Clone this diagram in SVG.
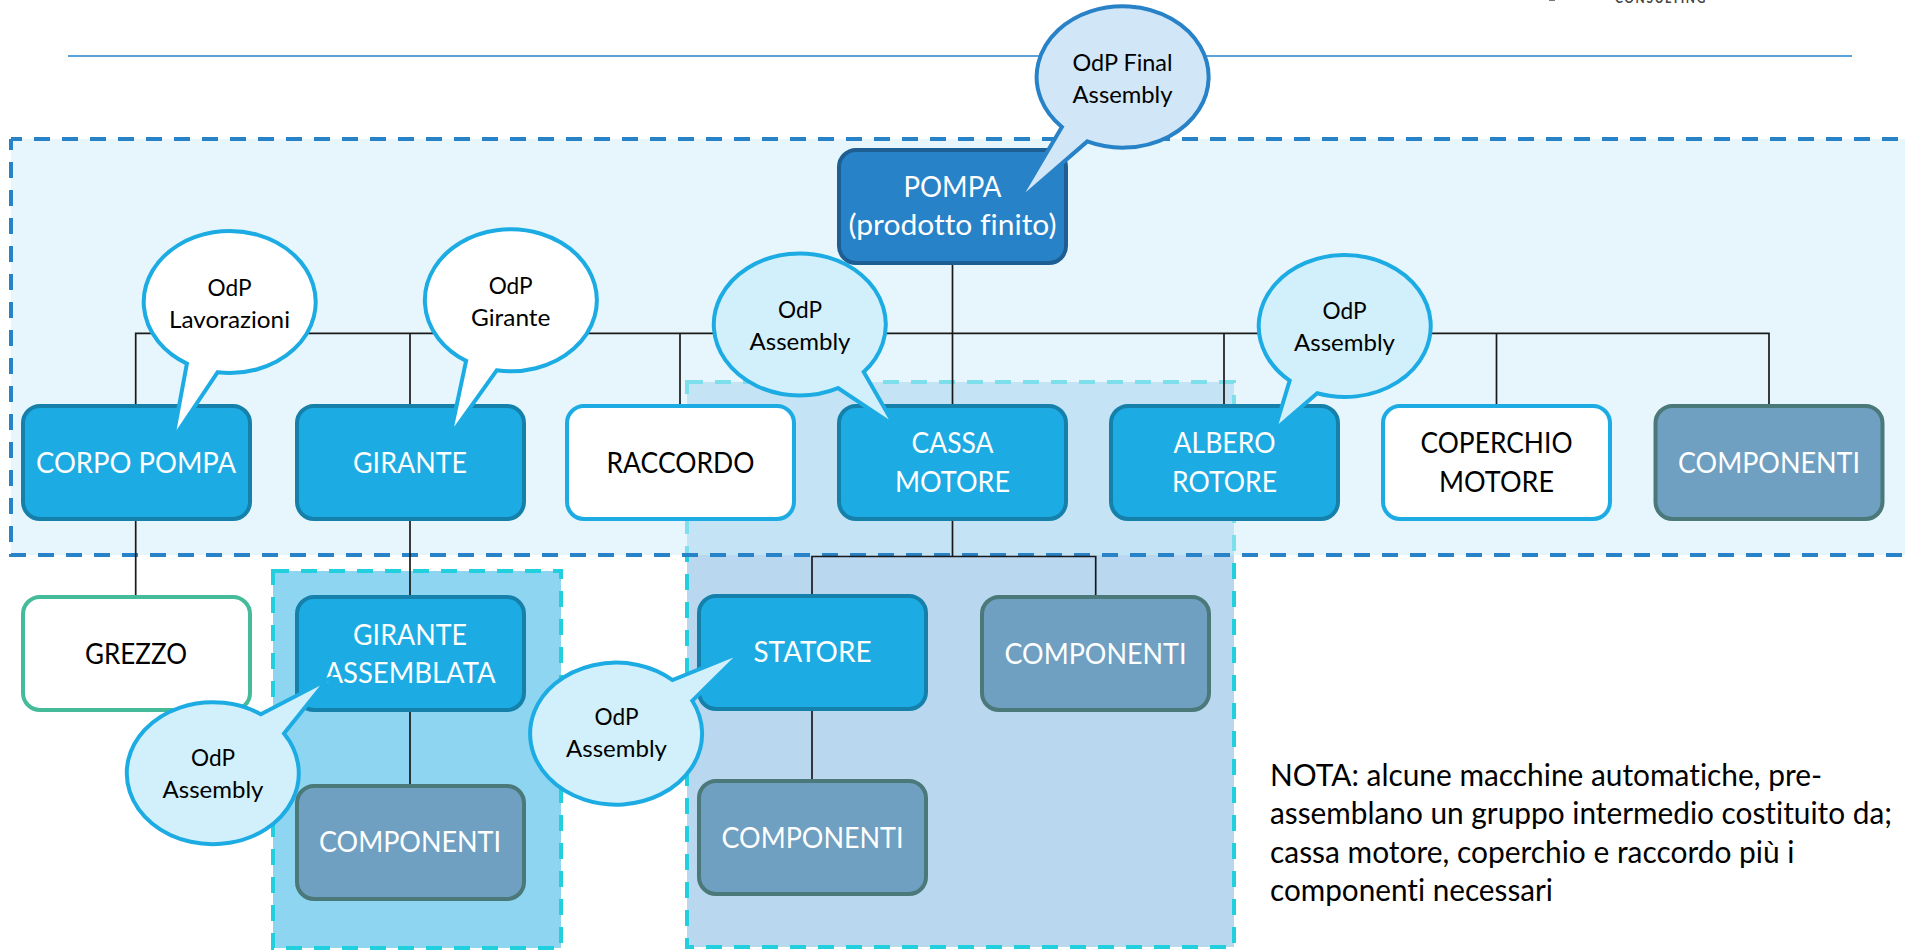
<svg xmlns="http://www.w3.org/2000/svg" width="1905" height="950" viewBox="0 0 1905 950">
<style>
text{font-family:Lato,"Open Sans",sans-serif;font-variant-ligatures:none}
.n{stroke-width:4}
.blue{fill:#1CACE3;stroke:#1581AB}
.dark{fill:#2882C8;stroke:#1D5F92}
.comp{fill:#6F9FC1;stroke:#4B7878}
.white{fill:#fff;stroke:#1CACE3}
.raw{fill:#fff;stroke:#45BB9A}
.t{font-size:29px;text-anchor:middle}
.w{fill:#fff}
.k{fill:#000}
.b{stroke-width:4;stroke-linejoin:miter;stroke-miterlimit:20}
.bw{fill:#fff;stroke:#1CACE3}
.bp{fill:#D2F0FB;stroke:#1CACE3}
.bf{fill:#D1E6F6;stroke:#2882C8}
.bt{font-size:23px;text-anchor:middle;fill:#000}
.c{fill:none;stroke:#1A1A1A;stroke-width:1.7}
.zone{stroke:#22CFDC;stroke-width:4;stroke-dasharray:16 12}
</style>
<g id="header">
<line x1="68" y1="56" x2="1852" y2="56" stroke="#2882C8" stroke-width="1.5"/>
<rect x="1549" y="0" width="6" height="1" fill="#777"/>
<text x="1615" y="3" font-size="13" font-weight="700" letter-spacing="1.8" fill="#444" textLength="92" lengthAdjust="spacingAndGlyphs">CONSULTING</text>
</g>
<g id="zones">
<rect id="zone-cassa" class="zone" x="687" y="382" width="547" height="565" fill="#B9D8F0"/>
<rect id="zone-girante" class="zone" x="273" y="571" width="288" height="377" fill="#8DD5F1"/>
<path id="zone-prodotto" d="M1915 139H11V555H1915" fill="#CFEEFA" fill-opacity=".52" stroke="none"/>
<path d="M11 139H1915M11 139V555H1915" fill="none" stroke="#2882C8" stroke-width="4" stroke-dasharray="16 12" stroke-dashoffset="5"/>
</g>
<g id="connectors">
<path class="c" d="M952.500 263V404M135.700 404V333.300H1769V404M410 333.300V404M680 333.300V404M1224 333.300V404M1496.500 333.300V404"/>
<path class="c" d="M135.700 519V596M410 519V596M410 710V785M952.500 519V556.500H812V594M952.500 556.500H1095.700V596M812 709V780"/>
</g>
<g id="pompa"><rect class="n dark" x="839" y="150" width="227" height="113" rx="17"/><text class="t w" x="952.500" y="197" textLength="98" lengthAdjust="spacingAndGlyphs">POMPA</text><text class="t w" x="952.500" y="235" textLength="208" lengthAdjust="spacingAndGlyphs">(prodotto finito)</text></g>
<g id="corpo-pompa"><rect class="n blue" x="23" y="406" width="227" height="113" rx="17"/><text class="t w" x="136" y="473" textLength="200" lengthAdjust="spacingAndGlyphs">CORPO POMPA</text></g>
<g id="girante"><rect class="n blue" x="297" y="406" width="227" height="113" rx="17"/><text class="t w" x="410" y="473" textLength="114" lengthAdjust="spacingAndGlyphs">GIRANTE</text></g>
<g id="raccordo"><rect class="n white" x="567" y="406" width="227" height="113" rx="17"/><text class="t k" x="680.500" y="473" textLength="148" lengthAdjust="spacingAndGlyphs">RACCORDO</text></g>
<g id="cassa-motore"><rect class="n blue" x="839" y="406" width="227" height="113" rx="17"/><text class="t w" x="952.500" y="453" textLength="82" lengthAdjust="spacingAndGlyphs">CASSA</text><text class="t w" x="952.500" y="491.500" textLength="115" lengthAdjust="spacingAndGlyphs">MOTORE</text></g>
<g id="albero-rotore"><rect class="n blue" x="1111" y="406" width="227" height="113" rx="17"/><text class="t w" x="1224.500" y="453" textLength="102" lengthAdjust="spacingAndGlyphs">ALBERO</text><text class="t w" x="1224.500" y="491.500" textLength="105" lengthAdjust="spacingAndGlyphs">ROTORE</text></g>
<g id="coperchio-motore"><rect class="n white" x="1383" y="406" width="227" height="113" rx="17"/><text class="t k" x="1496.500" y="453" textLength="152" lengthAdjust="spacingAndGlyphs">COPERCHIO</text><text class="t k" x="1496.500" y="491.500" textLength="115" lengthAdjust="spacingAndGlyphs">MOTORE</text></g>
<g id="componenti-1"><rect class="n comp" x="1655.500" y="406" width="227" height="113" rx="17"/><text class="t w" x="1769" y="473" textLength="182" lengthAdjust="spacingAndGlyphs">COMPONENTI</text></g>
<g id="grezzo"><rect class="n raw" x="23" y="597" width="227" height="113" rx="17"/><text class="t k" x="136" y="664" textLength="102" lengthAdjust="spacingAndGlyphs">GREZZO</text></g>
<g id="girante-assemblata"><rect class="n blue" x="297" y="597" width="227" height="113" rx="17"/><text class="t w" x="410" y="645" textLength="114" lengthAdjust="spacingAndGlyphs">GIRANTE</text><text class="t w" x="410" y="683" textLength="171" lengthAdjust="spacingAndGlyphs">ASSEMBLATA</text></g>
<g id="componenti-2"><rect class="n comp" x="297" y="786" width="227" height="113" rx="17"/><text class="t w" x="410" y="852" textLength="182" lengthAdjust="spacingAndGlyphs">COMPONENTI</text></g>
<g id="statore"><rect class="n blue" x="699" y="596" width="227" height="113" rx="17"/><text class="t w" x="812.500" y="662" textLength="118" lengthAdjust="spacingAndGlyphs">STATORE</text></g>
<g id="componenti-3"><rect class="n comp" x="982" y="597" width="227" height="113" rx="17"/><text class="t w" x="1095.500" y="664" textLength="182" lengthAdjust="spacingAndGlyphs">COMPONENTI</text></g>
<g id="componenti-4"><rect class="n comp" x="699" y="781" width="227" height="113" rx="17"/><text class="t w" x="812.500" y="848" textLength="182" lengthAdjust="spacingAndGlyphs">COMPONENTI</text></g>
<g id="odp-final"><path class="b bf" d="M1017.500 202L1087.300 141.400A86 70.700 0 1 0 1061.900 127Z"/><text class="bt" x="1122.500" y="70.700" textLength="100" lengthAdjust="spacingAndGlyphs">OdP Final</text><text class="bt" x="1122.500" y="102.700" textLength="100" lengthAdjust="spacingAndGlyphs">Assembly</text></g>
<g id="odp-lavorazioni"><path class="b bw" d="M172.900 439L217.500 372.300A86 71 0 1 0 186.900 363.600Z"/><text class="bt" x="229.500" y="295.700" textLength="44" lengthAdjust="spacingAndGlyphs">OdP</text><text class="bt" x="229.500" y="327.700" textLength="121" lengthAdjust="spacingAndGlyphs">Lavorazioni</text></g>
<g id="odp-girante"><path class="b bw" d="M450.200 435.600L496.700 370.300A86 71 0 1 0 466.100 360.900Z"/><text class="bt" x="510.700" y="294" textLength="44" lengthAdjust="spacingAndGlyphs">OdP</text><text class="bt" x="510.700" y="326" textLength="79.500" lengthAdjust="spacingAndGlyphs">Girante</text></g>
<g id="odp-assembly-cassa"><path class="b bp" d="M894.800 426L863.700 372A86 71 0 1 0 838 388.100Z"/><text class="bt" x="800" y="317.700" textLength="44" lengthAdjust="spacingAndGlyphs">OdP</text><text class="bt" x="800" y="350" textLength="101" lengthAdjust="spacingAndGlyphs">Assembly</text></g>
<g id="odp-assembly-albero"><path class="b bp" d="M1274.700 430L1317.200 393.300A86 71 0 1 0 1289.700 380.600Z"/><text class="bt" x="1344.500" y="319.300" textLength="44" lengthAdjust="spacingAndGlyphs">OdP</text><text class="bt" x="1344.500" y="351" textLength="101" lengthAdjust="spacingAndGlyphs">Assembly</text></g>
<g id="odp-assembly-girante"><path class="b bp" d="M327.500 679.600L284 733.400A86 71 0 1 1 260.800 714.300Z"/><text class="bt" x="213" y="766" textLength="44" lengthAdjust="spacingAndGlyphs">OdP</text><text class="bt" x="213" y="797.700" textLength="101" lengthAdjust="spacingAndGlyphs">Assembly</text></g>
<g id="odp-assembly-statore"><path class="b bp" d="M741.900 651.900L692.300 700.700A86 71 0 1 1 672.600 680.100Z"/><text class="bt" x="616.500" y="725" textLength="44" lengthAdjust="spacingAndGlyphs">OdP</text><text class="bt" x="616.500" y="757" textLength="101" lengthAdjust="spacingAndGlyphs">Assembly</text></g>
<g id="nota" font-size="30" fill="#000"><text x="1270" y="785.700" textLength="552" lengthAdjust="spacingAndGlyphs">NOTA: alcune macchine automatiche, pre-</text><text x="1270" y="824" textLength="622" lengthAdjust="spacingAndGlyphs">assemblano un gruppo intermedio costituito da;</text><text x="1270" y="862.700" textLength="524.500" lengthAdjust="spacingAndGlyphs">cassa motore, coperchio e raccordo più i</text><text x="1270" y="900.700" textLength="283" lengthAdjust="spacingAndGlyphs">componenti necessari</text></g>
</svg>
